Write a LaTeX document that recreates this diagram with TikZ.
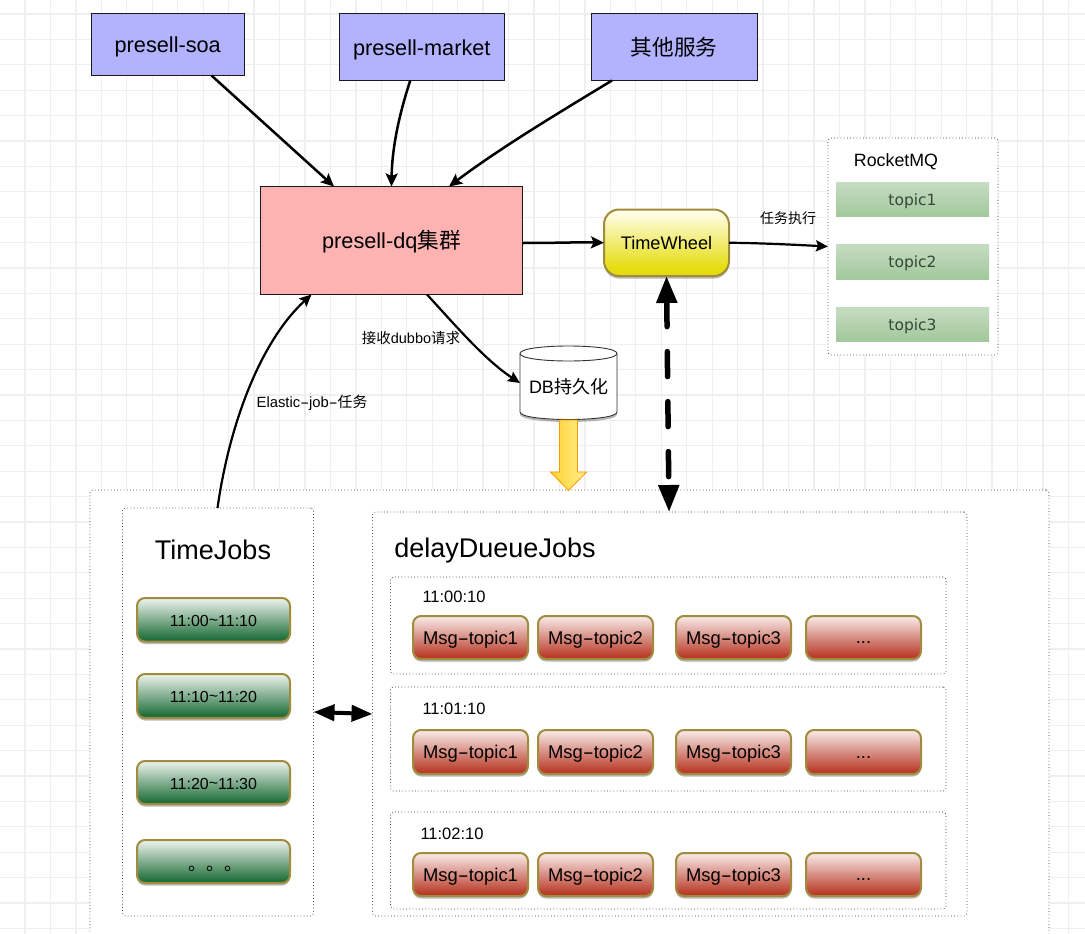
\documentclass[tikz,border=0pt]{standalone}
\usepackage{fontspec}
\usepackage{graphicx}
\setmainfont{Liberation Sans}
\newfontfamily\cjk{Noto Sans CJK SC}
\newfontfamily\djv{DejaVu Sans}
\usetikzlibrary{arrows.meta,shadows,calc}
\definecolor{gridc}{HTML}{EFEFEF}
\definecolor{glossb}{HTML}{A08C3C}
\definecolor{gt}{HTML}{EEF4EE}\definecolor{gb}{HTML}{1F6F3A}
\definecolor{rt}{HTML}{F9ECEA}\definecolor{rb}{HTML}{B93A28}
\definecolor{yt}{HTML}{FFFFF2}\definecolor{yb}{HTML}{E6DD10}
\definecolor{tt}{HTML}{C6DCC2}\definecolor{tb}{HTML}{A3C89C}
\definecolor{topictext}{HTML}{34483C}
\pgfdeclareverticalshading{greenglossy}{100bp}{color(0bp)=(gb);color(28bp)=(gb);color(75bp)=(gt);color(100bp)=(gt)}
\pgfdeclareverticalshading{redglossy}{100bp}{color(0bp)=(rb);color(28bp)=(rb);color(75bp)=(rt);color(100bp)=(rt)}
\pgfdeclareverticalshading{yellowglossy}{100bp}{color(0bp)=(yb);color(31bp)=(yb);color(75bp)=(yt);color(100bp)=(yt)}
\pgfdeclareverticalshading{topicshade}{100bp}{color(0bp)=(tb);color(25bp)=(tb);color(75bp)=(tt);color(100bp)=(tt)}
\newcommand{\fs}[1]{\fontsize{#1}{#1}\selectfont}
\newcommand{\wh}{\scalebox{1.8}[1]{-}}
\newcommand{\low}[2]{\raisebox{-#1}[\height][\depth]{#2}}
\newcommand{\bxn}[7]{%
  \pgfmathsetmacro{\cxx}{(#3+#4)/2}\pgfmathsetmacro{\cyy}{(#5+#6)/2}%
  \pgfmathsetmacro{\www}{#4-#3}\pgfmathsetmacro{\hhh}{#6-#5}%
  \node[#1,minimum width=\www pt,minimum height=\hhh pt] (#2) at (\cxx,\cyy) {#7};}
\tikzset{
  base/.style={inner sep=0pt,outer sep=0pt},
  svc/.style={base,draw=black!90,line width=.8pt,fill=blue!30!white,font=\fs{21.7}},
  core/.style={base,draw=black!90,line width=.8pt,fill=red!30!white,font=\fs{21.7}},
  sh/.style={drop shadow={shadow xshift=0pt,shadow yshift=-2.5pt,opacity=.28,fill=black}},
  wheel/.style={base,sh,shade,shading=yellowglossy,draw=glossb,line width=2pt,rounded corners=15pt,font=\fs{18.2}},
  green/.style={base,sh,shade,shading=greenglossy,draw=glossb,line width=2pt,rounded corners=8pt,font=\fs{16}},
  redn/.style={base,sh,shade,shading=redglossy,draw=glossb,line width=2pt,rounded corners=8pt,font=\fs{18.4}},
  topicn/.style={base,shade,shading=topicshade,text=topictext,font=\djv\fs{15.5}},
  group/.style={base,fill=white,draw=black!75,line width=.7pt,dash pattern=on .8pt off 2.4pt,rounded corners=3pt},
  lab/.style={base,font=\fs{16.5}},
  arr/.style={line width=2.5pt,-{Stealth[length=13pt,width=12pt,inset=2.5pt]}},
  thin arr/.style={line width=2.2pt,-{Stealth[length=12pt,width=11pt,inset=2pt]}},
}
\begin{document}
\begin{tikzpicture}[x=1pt,y=-1pt]
\useasboundingbox (0,0) rectangle (1085,934);
\begin{scope}
\clip (0,0) rectangle (1085,934);
\fill[white] (0,0) rectangle (1085,934);
\foreach \i in {0,...,42} \draw[gridc,line width=1.3pt] ({25+25.45*\i},0) -- ({25+25.45*\i},934);
\foreach \j in {0,...,36} \draw[gridc,line width=1.3pt] (0,{14+25.4*\j}) -- (1085,{14+25.4*\j});

% containers
\bxn{group}{big}{90}{1049}{490}{960}{}
\bxn{group}{jobs}{122.5}{313.5}{508}{916}{}
\bxn{group}{delay}{372.5}{967}{512}{916}{}
\bxn{group}{g1}{390.5}{946}{577}{674}{}
\bxn{group}{g2}{390.5}{946}{687}{791}{}
\bxn{group}{g3}{390.5}{946}{812}{909}{}
\bxn{group}{mq}{828}{998}{138}{355}{}
\end{scope}

% services
\bxn{svc}{soa}{91}{244.5}{13.5}{75.5}{\low{2pt}{presell-soa}}
\bxn{svc}{market}{339}{504.5}{13.5}{80.5}{\low{3pt}{presell-market}}
\bxn{svc}{other}{591}{757}{13.5}{80.5}{\cjk 其他服务}
\bxn{core}{dq}{260.5}{522.5}{186.5}{294.5}{\low{1pt}{presell-dq{\cjk 集群}}}
\bxn{wheel}{tw}{604}{729}{209.5}{276}{TimeWheel}

% RocketMQ
\node[base,font=\fs{17.8}] (mqt) at (896,162) {RocketMQ};
\bxn{topicn}{t1}{836}{989}{182}{216}{\low{2pt}{topic1}}
\bxn{topicn}{t2}{836}{989}{244}{279}{\low{2pt}{topic2}}
\bxn{topicn}{t3}{836}{989}{307}{341}{\low{2pt}{topic3}}

% database
\draw[line width=.9pt,draw=black!80,fill=white,drop shadow={shadow xshift=0pt,shadow yshift=-2.5pt,opacity=.28,fill=black}]
  (520,353.5) .. controls (520,343.5) and (617,343.5) .. (617,353.5) -- (617,412) .. controls (617,422) and (520,422) .. (520,412) -- cycle;
\draw[line width=.9pt,draw=black!80] (520,353.5) .. controls (520,363.5) and (617,363.5) .. (617,353.5);
\node[base,minimum width=97pt,minimum height=74pt,font=\fs{18}] (db) at (568.5,383) {\low{4pt}{DB{\cjk 持久化}}};

% block arrow
\shade[left color=yellow!55!orange!80,right color=yellow!70!orange!45,draw=orange!80!yellow,line width=.8pt]
  (559.5,420) -- (577.5,420) -- (577.5,472) -- (586.5,472) -- (568.5,490.5) -- (550.5,472) -- (559.5,472) -- cycle;

% time jobs
\node[base,font=\fs{27}] (jt) at (213,550) {TimeJobs};
\bxn{green}{j1}{137}{290}{598}{641.5}{\low{1pt}{11:00\raisebox{1pt}{\textasciitilde}11:10}}
\bxn{green}{j2}{137}{290}{674}{718}{\low{1pt}{11:10\raisebox{1pt}{\textasciitilde}11:20}}
\bxn{green}{j3}{137}{290}{761}{804}{\low{1pt}{11:20\raisebox{1pt}{\textasciitilde}11:30}}
\bxn{green}{j4}{137}{290}{840}{883}{\low{7pt}{\hspace{4pt}{\cjk\fs{18}。。。}}}

% delay queue jobs
\node[base,font=\fs{27}] (dt) at (495,551) {delayDueueJobs};
\node[lab] (l1) at (454,597) {11:00:10};
\node[lab] (l2) at (454,709) {11:01:10};
\node[lab] (l3) at (452,834) {11:02:10};
\foreach \r/\a/\b in {a/616/659,b/730/774,c/853/896}{
  \bxn{redn}{m1\r}{413}{528}{\a}{\b}{\low{2pt}{Msg\wh topic1}}
  \bxn{redn}{m2\r}{538}{653}{\a}{\b}{\low{2pt}{Msg\wh topic2}}
  \bxn{redn}{m3\r}{676}{791}{\a}{\b}{\low{2pt}{Msg\wh topic3}}
  \bxn{redn}{m4\r}{806}{921}{\a}{\b}{\low{2pt}{\vphantom{Msg}...}}
}

% connectors
\draw[arr] ([xshift=-33pt]soa.south east) -- ([xshift=-57.5pt]dq.north);
\draw[arr] ([xshift=-11.5pt]market.south) .. controls (398,118) and (392,150) .. (dq.north);
\draw[arr] ([xshift=-62pt]other.south) .. controls (560,112) and (500,148) .. ([xshift=57.5pt]dq.north);
\draw[arr] ([yshift=-2.5pt]dq.east) .. controls (560,243) and (580,242) .. (tw.west);
\draw[thin arr] (tw.east) .. controls (760,243) and (800,245) .. (mq.west);
\draw[thin arr] ([xshift=35.5pt]dq.south) .. controls (455,325) and (485,360) .. (db.west);
\draw[thin arr] ([xshift=-0.5pt]jobs.north) .. controls (230,420) and (262,340) .. ([xshift=-80pt]dq.south);
\draw[line width=5.5pt,line cap=round,dash pattern=on 25pt off 25pt,{Triangle[length=27pt,width=20pt]}-{Triangle[length=27pt,width=20pt]}]
  (tw.south) -- ([xshift=-.7pt]delay.north);
\draw[line width=4pt,{Triangle[length=21pt,width=16pt]}-{Triangle[length=21pt,width=16pt]}] (jobs.east) -- (delay.west);

% connector labels
\node[base,font=\fs{14}] (lb1) at (788,218) {\cjk 任务执行};
\node[base,font=\fs{14.5}] (lb2) at (411,338) {{\cjk 接收}dubbo{\cjk 请求}};
\node[base,font=\fs{14.8}] (lb3) at (312,402.5) {Elastic\wh job\wh{\cjk 任务}};
\end{tikzpicture}
\end{document}
